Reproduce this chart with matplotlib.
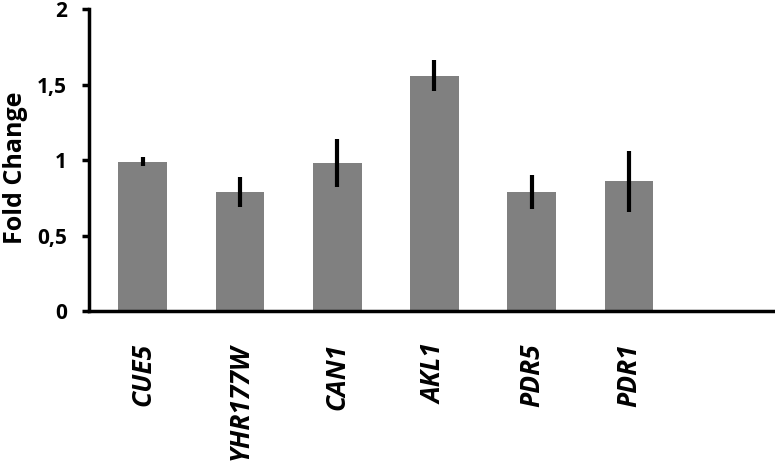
import matplotlib
matplotlib.use('Agg')
import matplotlib.pyplot as plt
from matplotlib.ticker import FuncFormatter

plt.rcParams['font.family'] = ['Open Sans', 'DejaVu Sans']

# data
genes = ['CUE5', 'YHR177W', 'CAN1', 'AKL1', 'PDR5', 'PDR1']
fold_change = [0.99, 0.79, 0.98, 1.56, 0.79, 0.86]
errors = [0.03, 0.10, 0.16, 0.10, 0.11, 0.20]

fig = plt.figure(figsize=(7.75, 4.76), dpi=100)
ax = fig.add_axes([0.115, 0.346, 0.885, 0.635])

x = list(range(len(genes)))
ax.bar(x, fold_change, width=0.5, color='#808080', zorder=2)
ax.errorbar(x, fold_change, yerr=errors, fmt='none', ecolor='black',
            elinewidth=3, capsize=0, zorder=3)

ax.set_xlim(-0.55, len(genes) + 0.5)
ax.set_ylim(0, 2)
ax.set_yticks([0, 0.5, 1, 1.5, 2])
ax.yaxis.set_major_formatter(FuncFormatter(lambda v, p: ('%g' % v).replace('.', ',')))

ax.set_xticks(x)
ax.set_xticklabels(genes, rotation=90, fontsize=19, fontweight='bold', style='italic')
ax.tick_params(axis='x', length=0, pad=23)
ax.tick_params(axis='y', length=5, width=2.5, labelsize=15, pad=11)
for lab in ax.get_yticklabels():
    lab.set_fontweight('bold')

ax.set_ylabel('Fold Change', fontsize=18, fontweight='bold', va='center')
ax.yaxis.set_label_coords(-0.108, 0.475)

for s in ['top', 'right']:
    ax.spines[s].set_visible(False)
for s in ['left', 'bottom']:
    ax.spines[s].set_linewidth(2.5)

fig.savefig('out.png', dpi=100)
